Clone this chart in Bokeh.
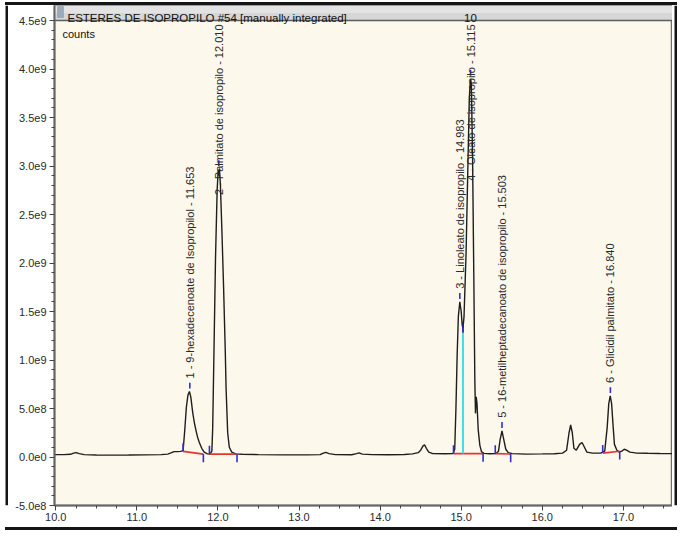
import math
from bokeh.plotting import figure
from bokeh.layouts import row, column
from bokeh.models import Range1d, FixedTicker, Label, ColumnDataSource, BoxAnnotation, Span, Div
from bokeh.core.properties import value
from bokeh.embed import file_html
from bokeh.resources import INLINE

# ---------------- data ----------------
time_min = [9.984, 10.10, 10.18, 10.22, 10.25, 10.29, 10.35, 10.50, 10.70, 10.90, 11.10, 11.30,
            11.38, 11.42, 11.46, 11.50, 11.54, 11.57, 11.59, 11.61, 11.63, 11.648, 11.665, 11.69,
            11.71, 11.73, 11.75, 11.77, 11.80, 11.83, 11.87, 11.90, 11.925, 11.935, 11.95, 11.97,
            11.99, 12.003, 12.010, 12.018, 12.03, 12.05, 12.07, 12.09, 12.10, 12.12, 12.14, 12.17,
            12.22, 12.30, 12.50, 12.80, 13.10, 13.26, 13.30, 13.33, 13.37, 13.45, 13.65, 13.71,
            13.74, 13.78, 13.90, 14.10, 14.30, 14.40, 14.47, 14.50, 14.53, 14.548, 14.57, 14.60,
            14.65, 14.80, 14.90, 14.92, 14.935, 14.95, 14.965, 14.983, 15.00, 15.012, 15.022, 15.035,
            15.06, 15.085, 15.10, 15.115, 15.125, 15.14, 15.155, 15.168, 15.176, 15.185, 15.195,
            15.21, 15.23, 15.25, 15.28, 15.35, 15.43, 15.46, 15.48, 15.503, 15.52, 15.55, 15.58,
            15.63, 15.80, 16.00, 16.15, 16.25, 16.30, 16.33, 16.35, 16.37, 16.39, 16.42, 16.46,
            16.49, 16.52, 16.55, 16.62, 16.72, 16.77, 16.80, 16.82, 16.838, 16.855, 16.875, 16.89,
            16.92, 16.95, 16.98, 17.01, 17.04, 17.08, 17.15, 17.30, 17.45, 17.606]
signal_e9 = [0.025, 0.024, 0.028, 0.040, 0.045, 0.035, 0.025, 0.020, 0.019, 0.020, 0.022, 0.025,
             0.030, 0.042, 0.055, 0.055, 0.058, 0.065, 0.27, 0.51, 0.64, 0.675, 0.62, 0.45,
             0.35, 0.27, 0.20, 0.15, 0.09, 0.05, 0.032, 0.030, 0.06, 0.30, 1.05, 2.06,
             2.75, 2.96, 2.90, 2.97, 2.81, 2.30, 1.73, 1.10, 0.71, 0.25, 0.10, 0.05,
             0.032, 0.028, 0.025, 0.022, 0.022, 0.024, 0.040, 0.048, 0.035, 0.025, 0.023, 0.035,
             0.042, 0.030, 0.024, 0.023, 0.026, 0.032, 0.045, 0.07, 0.115, 0.125, 0.09, 0.05,
             0.035, 0.033, 0.035, 0.08, 0.50, 1.05, 1.45, 1.60, 1.50, 1.36, 1.33, 1.45,
             2.10, 3.10, 3.70, 3.90, 3.85, 3.10, 1.90, 0.80, 0.45, 0.62, 0.55,
             0.28, 0.12, 0.055, 0.037, 0.033, 0.035, 0.06, 0.18, 0.27, 0.20, 0.08, 0.045,
             0.035, 0.030, 0.032, 0.034, 0.040, 0.07, 0.25, 0.33, 0.25, 0.09, 0.07, 0.13,
             0.15, 0.10, 0.05, 0.04, 0.04, 0.06, 0.30, 0.55, 0.63, 0.55, 0.30, 0.13,
             0.07, 0.05, 0.06, 0.08, 0.07, 0.05, 0.042, 0.038, 0.036, 0.035]

peak_ids = [1, 2, 3, 4, 5, 6]
peak_names = ["9-hexadecenoate de Isopropilol ", "Palmitato de isopropilo",
              "Linoleato de isopropilo", "Oleato de isopropilo",
              "16-metilheptadecanoato de isopropilo", "Glicidil palmitato "]
peak_rt = [11.653, 12.010, 14.983, 15.115, 15.503, 16.840]
peak_apex_e9 = [0.675, 2.97, 1.60, 3.90, 0.27, 0.63]

# integration baselines (start / end of each integrated region)
base_start_t = [11.57, 11.895, 14.905, 15.42, 16.745]
base_start_e9 = [0.058, 0.030, 0.035, 0.035, 0.040]
base_end_t = [11.82, 12.235, 15.27, 15.61, 16.955]
base_end_e9 = [0.030, 0.030, 0.035, 0.030, 0.060]

# perpendicular drop between peaks 3 and 4
drop_t = [15.022]
drop_base_e9 = [0.035]
drop_top_e9 = [1.28]

x_ticks = [10, 11, 12, 13, 14, 15, 16, 17]
x_tick_labels = ["10.0", "11.0", "12.0", "13.0", "14.0", "15.0", "16.0", "17.0"]
y_ticks = [-500000000, 0, 500000000, 1000000000, 1500000000, 2000000000, 2500000000,
           3000000000, 3500000000, 4000000000, 4500000000]
y_tick_labels = ["-5.0e8", "0.0e0", "5.0e8", "1.0e9", "1.5e9", "2.0e9", "2.5e9",
                 "3.0e9", "3.5e9", "4.0e9", "4.5e9"]

title_text = "ESTERES DE ISOPROPILO #54 [manually integrated]"
title_right = "10"
y_unit = "counts"

# ---------------- layout / style constants ----------------
E9 = 1e9
TOTAL_W, TOTAL_H = 677, 536
STRIP_L, STRIP_R, STRIP_T, STRIP_B = 8, 5, 5, 9     # window frame strips
MAIN_W = TOTAL_W - STRIP_L - STRIP_R
MAIN_H = TOTAL_H - STRIP_T - STRIP_B
MB_LEFT, MB_BOTTOM = 46, 22
FRAME_H = MAIN_H - MB_BOTTOM                         # 500 px: title bar (15) + plot (485)
BAR_PX = 15
X_MIN, X_MAX = 9.984, 17.606
Y_MIN, Y_MAX = -0.5 * E9, 4.5 * E9
Y_TOP = Y_MAX + BAR_PX * (Y_MAX - Y_MIN) / (FRAME_H - BAR_PX)
FONT = "Liberation Sans"
TXT = "#2a2a2a"
BLUE = "#2f2fd0"
RED = "#e6352e"
CYAN = "#3fe0e6"
BLACK = "#151515"
TICK_LEN = 0.085 * E9
APEX_GAP = 0.03 * E9
APEX_LEN = 0.06 * E9

signal = [v * E9 for v in signal_e9]
apex = [v * E9 for v in peak_apex_e9]
labels = [f"{i} - {n} - {rt:.3f}" for i, n, rt in zip(peak_ids, peak_names, peak_rt)]

p = figure(width=MAIN_W, height=MAIN_H,
           x_range=Range1d(X_MIN, X_MAX), y_range=Range1d(Y_MIN, Y_TOP),
           output_backend="svg", toolbar_location=None,
           min_border_left=MB_LEFT, min_border_right=0, min_border_top=0,
           min_border_bottom=MB_BOTTOM,
           background_fill_color="#fdf8ec", border_fill_color="white")
p.grid.visible = False
p.outline_line_color = "#6e6e6e"
p.outline_line_width = 1.5

# axes
minor_x = [10 + 0.25 * k for k in range(0, 31) if k % 4 != 0]
p.xaxis.ticker = FixedTicker(ticks=x_ticks, minor_ticks=minor_x)
p.xaxis.major_label_overrides = dict(zip(x_ticks, x_tick_labels))
minor_y = [-500000000 + 100000000 * k for k in range(0, 51) if k % 5 != 0]
p.yaxis.ticker = FixedTicker(ticks=y_ticks, minor_ticks=minor_y)
p.yaxis.major_label_overrides = dict(zip(y_ticks, y_tick_labels))
for ax in (p.xaxis[0], p.yaxis[0]):
    ax.axis_line_color = "#666666"
    ax.axis_line_width = 2
    ax.major_tick_line_color = "#444444"
    ax.minor_tick_line_color = "#444444"
    ax.major_tick_in = 0
    ax.major_tick_out = 5
    ax.minor_tick_in = 0
    ax.minor_tick_out = 3
    ax.major_label_text_font = FONT
    ax.major_label_text_font_size = "11px"
    ax.major_label_text_color = TXT
p.yaxis.major_label_standoff = 3
p.xaxis.major_label_standoff = 2

# title bar inside the top of the frame
p.quad(left=[X_MIN], right=[X_MAX], bottom=[Y_MAX], top=[Y_TOP],
       fill_color="#d6d6d6", line_color=None)
p.quad(left=[X_MIN], right=[X_MAX], bottom=[(Y_MAX + Y_TOP) / 2], top=[Y_TOP],
       fill_color="#e3e3e3", line_color=None)
p.add_layout(Span(location=Y_MAX, dimension="width", line_color="#5e5e5e", line_width=1.5))
p.add_layout(BoxAnnotation(left=3, right=9, bottom=FRAME_H - 12, top=FRAME_H - 1,
                           left_units="screen", right_units="screen",
                           bottom_units="screen", top_units="screen",
                           fill_color="#9aaabb", fill_alpha=1.0,
                           line_color="#66788a", line_width=1))
p.add_layout(Label(x=13, y=FRAME_H - 12, x_units="screen", y_units="screen",
                   text=title_text, text_font=FONT, text_font_size="11.5px",
                   text_color="#111111", text_baseline="alphabetic"))
p.add_layout(Label(x=416, y=FRAME_H - 12, x_units="screen", y_units="screen",
                   text=title_right, text_font=FONT, text_font_size="11.5px",
                   text_color="#111111", text_align="center", text_baseline="alphabetic"))
p.add_layout(Label(x=8, y=FRAME_H - 28, x_units="screen", y_units="screen",
                   text=y_unit, text_font=FONT, text_font_size="11px",
                   text_color="#111111", text_baseline="middle"))

src = ColumnDataSource(dict(t=time_min, v=signal))
p.line("t", "v", source=src, line_color="#1e1e1e", line_width=1.4)

# integration baselines and markers
bs = [v * E9 for v in base_start_e9]
be = [v * E9 for v in base_end_e9]
p.segment(x0=base_start_t, y0=bs, x1=base_end_t, y1=be, line_color=RED, line_width=1.6)
p.segment(x0=base_start_t, y0=bs, x1=base_start_t, y1=[v + TICK_LEN for v in bs],
          line_color=BLUE, line_width=1.6)
p.segment(x0=base_end_t, y0=be, x1=base_end_t, y1=[v - TICK_LEN for v in be],
          line_color=BLUE, line_width=1.6)
dtop = [v * E9 for v in drop_top_e9]
p.segment(x0=drop_t, y0=[v * E9 for v in drop_base_e9], x1=drop_t, y1=dtop,
          line_color=CYAN, line_width=2)
p.segment(x0=drop_t, y0=dtop, x1=drop_t, y1=[v + 0.1 * E9 for v in dtop],
          line_color="#2020a0", line_width=1.8)
p.segment(x0=peak_rt, y0=[v + APEX_GAP for v in apex], x1=peak_rt,
          y1=[v + APEX_GAP + APEX_LEN for v in apex], line_color=BLUE, line_width=1.6)

# peak labels: free labels sit above the apex, tall peaks are pinned to the top
free = [i for i, a in enumerate(apex) if a < 2.5 * E9]
pinned = [i for i, a in enumerate(apex) if a >= 2.5 * E9]
p.text(x=[peak_rt[i] for i in free], y=[apex[i] for i in free], text=[labels[i] for i in free],
       angle=math.pi / 2, text_align="left", text_baseline="middle", y_offset=-13,
       text_font=value(FONT), text_font_size="11px", text_color=TXT)
p.text(x=[peak_rt[i] for i in pinned], y=[Y_MAX for i in pinned],
       text=[labels[i] for i in pinned],
       angle=math.pi / 2, text_align="right", text_baseline="middle", y_offset=4,
       text_font=value(FONT), text_font_size="11px", text_color=TXT)


def strip(w, h, rects):
    """A narrow figure used as a vertical piece of the black window frame (pixel coords)."""
    s = figure(width=w, height=h, x_range=Range1d(0, w), y_range=Range1d(h, 0),
               x_axis_type=None, y_axis_type=None, output_backend="svg",
               toolbar_location=None, min_border=0, outline_line_color=None,
               background_fill_color="white", border_fill_color="white")
    for (l, r, t, b) in rects:
        s.quad(left=[l], right=[r], top=[t], bottom=[b], fill_color=BLACK, line_color=None)
    return s


def hline(margin):
    """A thin horizontal black bar of the window frame."""
    return Div(text="", width=TOTAL_W - 5, height=3, margin=margin,
               styles={"background-color": BLACK})


left_strip = strip(STRIP_L, MAIN_H, [(5, 8, 0, MAIN_H)])
right_strip = strip(STRIP_R, MAIN_H, [(2, 5, 0, MAIN_H)])

layout = column(hline((2, 0, 0, 5)),
                row(left_strip, p, right_strip, spacing=0),
                hline((0, 0, 6, 5)), spacing=0)

open("out.html", "w").write(file_html(layout, INLINE))
